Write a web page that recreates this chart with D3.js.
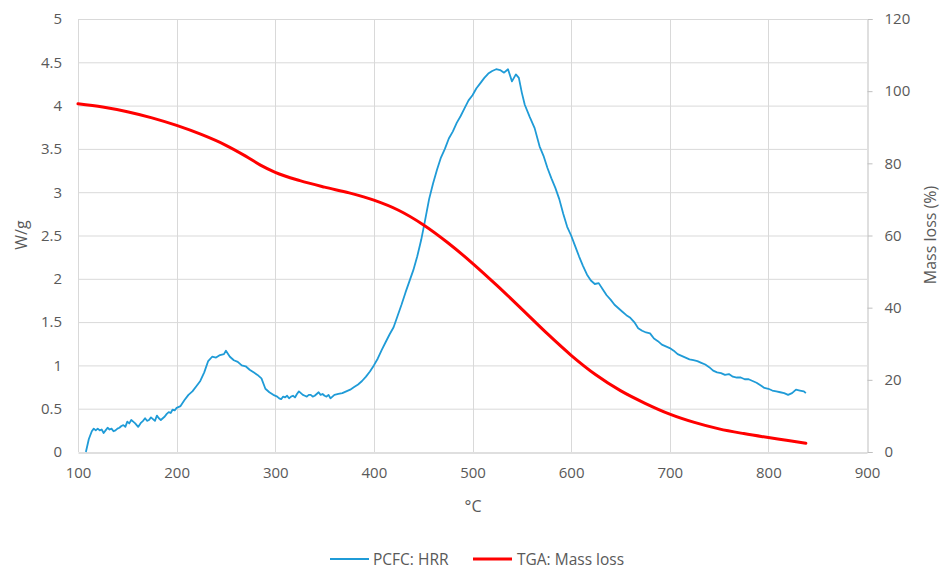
<!DOCTYPE html>
<html><head><meta charset="utf-8">
<script src="https://cdn.jsdelivr.net/npm/d3@7"></script>
<style>body{margin:0;background:#fff}svg{display:block}text{font-family:"Open Sans",sans-serif;fill:#595959}</style>
</head><body><svg id="c" width="941" height="569"></svg>
<script>
const xTicks=[100,200,300,400,500,600,700,800,900];
const yLeftTicks=[0,0.5,1,1.5,2,2.5,3,3.5,4,4.5,5];
const yRightTicks=[0,20,40,60,80,100,120];
const hrrT=[108,111,114,116,118,120,122,124,126,128,130,132,134,136,138,140,142,144,146,148,150,152,154,156,158,161,164,166,168,170,172,174,176,178,180,182,184,186,188,190,192,194,196,198,200,204,208,212,216,220,224,228,232,236,240,244,248,250,254,258,262,266,270,274,278,282,286,290,294,298,302,304,306,308,310,312,314,316,318,320,322,324,326,328,330,332,334,336,338,340,342,344,346,348,350,352,354,356,358,360,364,368,372,376,380,384,388,392,396,400,404,408,412,416,420,424,428,432,436,440,444,448,452,456,460,464,468,472,476,480,484,488,492,496,500,504,508,512,516,520,524,528,532,536,540,544,547,550,553,558,563,568,572,576,580,584,588,592,596,600,604,608,612,616,620,624,628,632,636,640,644,648,652,656,660,664,668,672,676,680,684,688,692,696,700,704,708,712,716,720,724,728,732,736,740,744,748,752,756,760,764,768,772,776,780,784,788,792,796,800,804,808,812,816,820,824,828,832,836,838];
const hrrV=[0.00,0.15,0.24,0.27,0.25,0.27,0.25,0.26,0.22,0.25,0.28,0.26,0.27,0.24,0.25,0.27,0.28,0.30,0.31,0.29,0.35,0.33,0.37,0.35,0.33,0.29,0.34,0.36,0.39,0.36,0.37,0.40,0.38,0.36,0.42,0.39,0.37,0.39,0.41,0.44,0.46,0.45,0.49,0.48,0.51,0.53,0.60,0.66,0.70,0.76,0.82,0.92,1.05,1.10,1.09,1.12,1.13,1.17,1.10,1.06,1.04,1.00,0.99,0.95,0.92,0.89,0.85,0.73,0.69,0.66,0.64,0.62,0.61,0.64,0.63,0.65,0.62,0.64,0.65,0.63,0.67,0.70,0.68,0.66,0.65,0.64,0.66,0.66,0.64,0.65,0.67,0.69,0.66,0.67,0.65,0.64,0.66,0.62,0.64,0.66,0.67,0.68,0.70,0.72,0.75,0.78,0.82,0.87,0.93,1.00,1.08,1.18,1.27,1.36,1.44,1.57,1.70,1.84,1.97,2.10,2.26,2.45,2.68,2.92,3.10,3.26,3.40,3.50,3.62,3.70,3.80,3.88,3.97,4.06,4.12,4.20,4.26,4.32,4.37,4.40,4.42,4.41,4.38,4.42,4.28,4.36,4.32,4.15,4.01,3.87,3.74,3.53,3.42,3.28,3.16,3.05,2.92,2.75,2.60,2.50,2.38,2.26,2.15,2.05,1.98,1.94,1.95,1.88,1.81,1.76,1.70,1.66,1.62,1.58,1.55,1.50,1.43,1.40,1.38,1.37,1.31,1.28,1.24,1.22,1.20,1.17,1.13,1.11,1.09,1.07,1.06,1.05,1.03,1.01,0.98,0.94,0.92,0.91,0.89,0.90,0.87,0.86,0.86,0.84,0.84,0.82,0.80,0.77,0.74,0.73,0.71,0.70,0.69,0.68,0.66,0.68,0.72,0.71,0.70,0.68];
const tgaT=[100,125,150,175,200,225,250,270,285,300,325,350,375,400,425,450,475,500,525,550,575,600,625,650,675,700,725,750,775,800,820,838];
const tgaV=[96.5,95.6,94.3,92.6,90.5,88.0,85.0,82.0,79.5,77.5,75.2,73.4,71.8,69.8,67.0,63.0,58.0,52.3,46.1,39.6,33.0,26.8,21.4,17.0,13.5,10.5,8.2,6.4,5.1,4.0,3.2,2.4];

const svg=d3.select("#c");
const L=78,R=867,T=19,B=452;
const x=d3.scaleLinear().domain([100,900]).range([L,R]);
const yL=d3.scaleLinear().domain([0,5]).range([B,T]);
const yR=d3.scaleLinear().domain([0,120]).range([B,T]);

// gridlines
svg.append("g").selectAll("line").data(yLeftTicks.slice(1)).join("line")
  .attr("x1",L).attr("x2",R).attr("y1",d=>yL(d)+0.5).attr("y2",d=>yL(d)+0.5)
  .attr("stroke","#d9d9d9").attr("stroke-width",1);
svg.append("g").selectAll("line").data(xTicks.slice(0,-1)).join("line")
  .attr("x1",d=>Math.round(x(d))+0.5).attr("x2",d=>Math.round(x(d))+0.5).attr("y1",T).attr("y2",B)
  .attr("stroke","#d9d9d9").attr("stroke-width",1);

// bottom axis
const gx=svg.append("g").attr("transform",`translate(0,${B+0.5})`)
  .call(d3.axisBottom(x).tickValues(xTicks).tickSize(0).tickPadding(15).tickFormat(d3.format("d")));
gx.select(".domain").attr("stroke","#bfbfbf");
gx.selectAll("text").style("font-size","15px").attr("fill","#595959").style("font-family","Open Sans");

// left axis labels
const gy=svg.append("g").attr("transform",`translate(${L},0)`)
  .call(d3.axisLeft(yL).tickValues(yLeftTicks).tickSize(0).tickPadding(16).tickFormat(d=>String(d)));
gy.select(".domain").remove();
gy.selectAll("text").style("font-size","15px").attr("fill","#595959").style("font-family","Open Sans");

// right axis
const gr=svg.append("g").attr("transform",`translate(${R+0.5},0)`)
  .call(d3.axisRight(yR).tickValues(yRightTicks).tickSize(5).tickPadding(12).tickFormat(d3.format("d")));
gr.select(".domain").attr("stroke","#bfbfbf");
gr.selectAll(".tick line").attr("stroke","#bfbfbf");
gr.selectAll("text").style("font-size","15px").attr("fill","#595959").style("font-family","Open Sans");

// series
const hrr=hrrT.map((t,i)=>[t,hrrV[i]]);
const tga=tgaT.map((t,i)=>[t,tgaV[i]]);
svg.append("path").datum(hrr).attr("fill","none").attr("stroke","#1f9bd7").attr("stroke-width",1.8)
  .attr("stroke-linejoin","round")
  .attr("d",d3.line().x(d=>x(d[0])).y(d=>yL(d[1])));
svg.append("path").datum(tga).attr("fill","none").attr("stroke","#ff0000").attr("stroke-width",3)
  .attr("stroke-linejoin","round").attr("stroke-linecap","round")
  .attr("d",d3.line().curve(d3.curveMonotoneX).x(d=>x(d[0])).y(d=>yR(d[1])));

// axis titles
svg.append("text").attr("x",473).attr("y",512).attr("text-anchor","middle").style("font-size","16px").text("°C");
svg.append("text").attr("transform","translate(27,235) rotate(-90)").attr("text-anchor","middle").style("font-size","16px").text("W/g");
svg.append("text").attr("transform","translate(936,235) rotate(-90)").attr("text-anchor","middle").style("font-size","16px").text("Mass loss (%)");

// legend
const lg=svg.append("g");
lg.append("line").attr("x1",330).attr("x2",369).attr("y1",559).attr("y2",559).attr("stroke","#1f9bd7").attr("stroke-width",1.8);
lg.append("text").attr("x",373).attr("y",564.5).style("font-size","15.5px").text("PCFC: HRR");
lg.append("line").attr("x1",473).attr("x2",512).attr("y1",559).attr("y2",559).attr("stroke","#ff0000").attr("stroke-width",3);
lg.append("text").attr("x",517).attr("y",564.5).style("font-size","15.5px").text("TGA: Mass loss");
</script></body></html>
